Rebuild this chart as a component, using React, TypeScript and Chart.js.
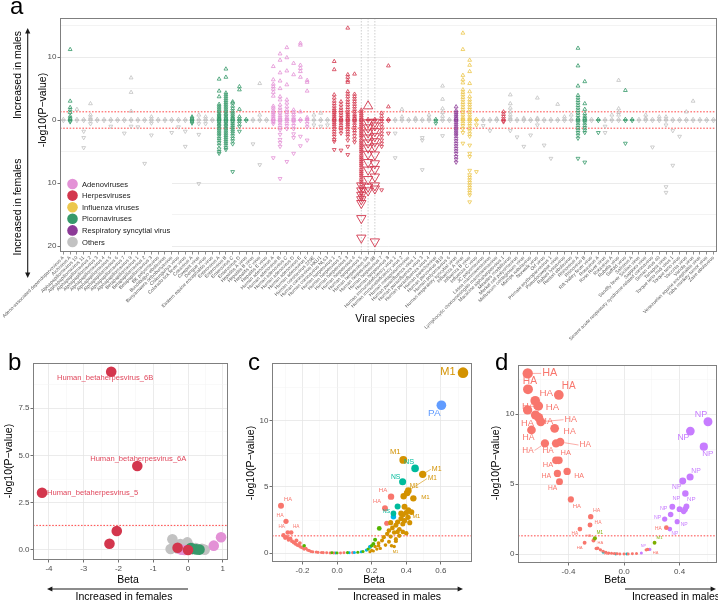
import React, { useEffect, useRef } from "react";
import { Chart, registerables } from "chart.js";

Chart.register(...registerables);

const PAGE_W = 718;
const PAGE_H = 601;
const SANS = "'Liberation Sans', Arial, Helvetica, sans-serif";
const AXIS_TEXT = "#4d4d4d";
const FRAME = "#7f7f7f";
const SIG_RED = "#ff3333";
const PVALUE_LINE = 1.3; // -log10(0.05)

// ---------------- a: peptide scores per viral species ----------------
const speciesNames: string[] = [
  "Adeno-associated dependoparvovirus A", "Aichivirus A", "Alphapapillomavirus 10", "Alphapapillomavirus 11",
  "Alphapapillomavirus 2", "Alphapapillomavirus 3", "Alphapapillomavirus 4", "Alphapapillomavirus 5",
  "Alphapapillomavirus 6", "Alphapapillomavirus 7", "Alphapapillomavirus 9", "Betapapillomavirus 1",
  "Betapapillomavirus 2", "Betapapillomavirus 3", "BK polyomavirus", "Bundibugyo ebolavirus",
  "Bunyamwera orthobunyavirus", "Chikungunya virus", "Colorado tick fever virus", "Cosavirus A",
  "Cowpox virus", "Dengue virus", "Eastern equine encephalitis virus", "Enterovirus A",
  "Enterovirus B", "Enterovirus C", "Enterovirus D", "Hepatitis A virus",
  "Hepatitis B virus", "Hepatitis C virus", "Hepatitis E virus", "Human adenovirus A",
  "Human adenovirus B", "Human adenovirus C", "Human adenovirus D", "Human adenovirus E",
  "Human adenovirus F", "Human coronavirus 229E", "Human coronavirus HKU1", "Human coronavirus NL63",
  "Human herpesvirus 1", "Human herpesvirus 2", "Human herpesvirus 3", "Human herpesvirus 4",
  "Human herpesvirus 5", "Human herpesvirus 6A", "Human herpesvirus 6B", "Human herpesvirus 7",
  "Human herpesvirus 8", "Human immunodeficiency virus 1", "Human immunodeficiency virus 2", "Human metapneumovirus",
  "Human parainfluenza virus 1", "Human parainfluenza virus 3", "Human parainfluenza virus 4", "Human parechovirus",
  "Human parvovirus B19", "Human polyomavirus 6", "Human respiratory syncytial virus", "Influenza A virus",
  "Influenza B virus", "Influenza C virus", "JC polyomavirus", "Lassa mammarenavirus",
  "Lymphocytic choriomeningitis mammarenavirus", "Macacine alphaherpesvirus 1", "Measles morbillivirus", "Merkel cell polyomavirus",
  "Molluscum contagiosum virus", "Mumps rubulavirus", "Norwalk virus", "Orf virus",
  "Primate erythroparvovirus 1", "Pseudocowpox virus", "Rabies lyssavirus", "Reston ebolavirus",
  "Rhinovirus A", "Rhinovirus B", "Rift Valley fever virus", "Rosavirus A",
  "Ross River virus", "Rotavirus A", "Rubella virus", "Saffold virus",
  "Salivirus A", "Sandfly fever Sicilian virus", "Sapporo virus", "Severe acute respiratory syndrome-related coronavirus",
  "Simian virus 40", "Tanapox virus", "Torque teno midi virus 1", "Torque teno virus",
  "Vaccinia virus", "Variola virus", "Venezuelan equine encephalitis virus", "Yaba monkey tumor virus",
  "Zaire ebolavirus",
];

// A adeno, H herpes, I influenza, P picorna, R RSV, O others
const speciesFamily: string[] = [
  "O", "P", "O", "O", "O", "O", "O", "O", "O", "O", "O", "O", "O", "O", "O", "O",
  "O", "O", "O", "P", "O", "O", "O", "P", "P", "P", "P", "P", "O", "O", "O", "A",
  "A", "A", "A", "A", "A", "O", "O", "O", "H", "H", "H", "H", "H", "H", "H", "H",
  "H", "O", "O", "O", "O", "O", "O", "P", "O", "O", "R", "I", "I", "I", "O", "O",
  "O", "H", "O", "O", "O", "O", "O", "O", "O", "O", "O", "O", "P", "P", "O", "P",
  "O", "O", "O", "P", "P", "O", "O", "O", "O", "O", "O", "O", "O", "O", "O", "O",
  "O",
];

// signed -log10(P): positive = higher in males, negative = higher in females
const peptideScores: number[][] = [
  [0.1, -0.1],
  [11.2, 3.0, 2.0, 1.6, 1.2, 0.6, 0.3, 0.1, -0.1, -0.3],
  [1.7, 0.1, -0.1],
  [0.1, -0.1, -1.8, -2.8, -4.4],
  [2.6, 0.8, 0.4, 0.1, -0.1, -0.6],
  [0.1, -0.1],
  [0.1, -0.1],
  [0.1, -0.1, -1.0],
  [0.1, -0.1],
  [0.1, -0.1, -2.1],
  [6.7, 4.4, 1.4, 0.1, -0.1, -1.0],
  [0.1, -0.1, -1.1],
  [0.1, -0.1, -6.9],
  [0.5, 0.1, -0.1, -0.5, -2.4],
  [0.1, -0.1],
  [0.1, -0.1],
  [0.1, -0.1, -2.0],
  [0.1, -0.1, -1.1],
  [0.1, -0.1, -1.8, -4.2],
  [0.5, 0.3, 0.1, -0.1, -0.3, -0.5],
  [0.8, 0.1, -0.1, -0.6, -2.3, -10.1],
  [0.5, 0.1, -0.1, -0.6],
  [0.1, -0.1],
  [6.5, 4.6, 3.7, 2.5, 2.2, 1.9, 1.6, 1.3, 1.0, 0.8, 0.6, 0.4, 0.2, 0.1, -0.1, -0.3, -0.5, -0.8, -1.0, -1.3, -1.6, -1.9, -2.2, -2.5, -2.9, -3.2, -3.6, -4.0, -4.6, -5.0, -5.3],
  [8.1, 6.8, 4.3, 4.0, 3.7, 3.4, 3.1, 2.8, 2.5, 2.2, 1.9, 1.6, 1.3, 1.0, 0.8, 0.5, 0.3, 0.1, -0.1, -0.3, -0.5, -0.8, -1.0, -1.3, -1.6, -1.9, -2.2, -2.5, -2.8, -3.1, -3.4, -3.7, -4.0, -4.4, -4.7],
  [2.9, 2.7, 2.2, 1.8, 1.4, 1.1, 0.8, 0.5, 0.3, 0.1, -0.1, -0.3, -0.6, -0.9, -1.2, -1.5, -1.8, -2.1, -2.5, -2.9, -3.3, -3.8, -8.2],
  [5.3, 4.8, 1.7, 0.5, 0.1, -0.1, -0.5, -1.0, -1.8],
  [0.1, -0.1],
  [0.1, -0.1, -3.8],
  [5.8, 0.8, 0.1, -0.1, -7.1],
  [0.1, -0.1],
  [8.5, 6.4, 5.7, 5.3, 4.9, 4.4, 3.8, 2.2, 1.9, 1.5, 1.2, 0.9, 0.6, 0.3, 0.1, -0.1, -0.3, -0.6, -6.0],
  [10.5, 9.5, 7.5, 6.2, 5.0, 3.7, 3.2, 2.4, 1.9, 1.5, 1.1, 0.7, 0.4, 0.1, -0.1, -0.4, -0.8, -1.2, -1.6, -2.3, -3.1, -3.6, -4.2, -9.3],
  [11.5, 9.9, 7.8, 5.6, 3.2, 2.7, 2.1, 1.6, 1.2, 0.8, 0.4, 0.1, -0.1, -0.5, -0.9, -1.4, -6.6],
  [9.0, 7.2, 1.6, 1.2, 0.8, 0.4, 0.1, -0.1, -0.4, -0.9, -1.4, -2.2, -2.8, -5.3],
  [12.2, 11.9, 8.7, 8.2, 7.7, 6.8, 1.3, 0.1, -0.1, -2.6, -4.1],
  [6.3, 6.0, 4.6, 0.4, 0.1, -0.1, -0.6, -1.1, -3.2],
  [0.8, 0.1, -0.1, -0.8],
  [1.1, 0.1, -0.1, -1.0],
  [0.1, -0.1, -0.8],
  [9.3, 8.0, 4.0, 3.5, 3.0, 2.6, 2.2, 1.8, 1.5, 1.2, 0.9, 0.6, 0.3, 0.1, -0.1, -0.4, -0.7, -1.0, -1.4, -1.8, -2.2, -2.6, -3.1, -3.4, -4.7],
  [2.9, 2.4, 1.9, 1.5, 1.1, 0.7, 0.3, 0.1, -0.1, -0.4, -0.8, -1.2, -1.6, -2.1, -4.8],
  [14.6, 7.2, 6.8, 6.3, 6.0, 4.5, 4.1, 3.7, 3.2, 2.8, 2.4, 2.0, 1.6, 1.2, 0.9, 0.6, 0.3, 0.1, -0.1, -0.4, -0.7, -1.0, -1.4, -1.8, -2.2, -2.6, -3.2, -4.2, -5.5],
  [7.3, 4.1, 3.7, 3.3, 2.9, 2.5, 2.1, 1.7, 1.3, 0.9, 0.6, 0.3, 0.1, -0.1, -0.4, -0.8, -1.2, -1.6, -2.0, -2.5, -3.0, -3.5],
  [1.6, 1.3, 1.0, 0.7, 0.4, 0.1, -0.1, -0.4, -0.7, -1.0, -1.3, -1.6, -1.9, -2.2, -2.5, -2.8, -3.2, -3.5, -3.8, -4.1, -4.4, -4.7, -5.0, -5.3, -5.7, -6.0, -6.3, -6.6, -6.9, -7.2, -7.5, -7.9, -8.2, -8.5, -8.8, -9.1, -9.5, -9.8, -10.2, -10.6, -11.0, -11.5, -12.0, -12.6],
  [0.1, -0.1],
  [0.1, -0.1],
  [1.1, 0.6, 0.1, -0.1, -0.6, -1.1, -1.6, -2.1, -2.6, -3.2, -3.7, -4.2, -11.1],
  [8.6, 2.1, 0.1, -0.1, -2.1],
  [0.1, -0.1, -2.1, -6.0],
  [1.7, 0.5, 0.1, -0.1],
  [0.1, -0.1],
  [0.3, 0.1, -0.1],
  [0.1, -0.1, -2.8, -3.2, -7.9],
  [0.8, 0.3, 0.1, -0.1],
  [0.1, -0.1, -0.5],
  [5.4, 3.3, 1.8, 1.2, 0.6, 0.1, -0.1, -2.5],
  [0.1, -0.1],
  [2.1, 1.5, 1.2, 0.9, 0.6, 0.3, 0.1, -0.1, -0.4, -0.7, -1.0, -1.3, -1.6, -1.9, -2.2, -2.5, -2.9, -3.3, -3.7, -4.1, -4.5, -4.9, -5.3, -5.8, -6.2, -6.7],
  [13.8, 11.2, 7.1, 6.4, 5.9, 4.8, 4.4, 4.0, 3.6, 3.2, 2.8, 2.4, 2.0, 1.6, 1.2, 0.8, 0.4, 0.1, -0.1, -0.5, -0.9, -1.4, -2.0, -3.7],
  [9.5, 8.7, 7.7, 5.8, 4.5, 3.7, 3.2, 2.8, 2.4, 2.0, 1.6, 1.2, 0.8, 0.4, 0.1, -0.1, -0.5, -0.9, -1.3, -1.7, -2.2, -2.6, -4.0, -5.3, -5.8, -8.0, -8.7, -9.1, -9.5, -9.9, -10.3, -10.7, -11.1, -11.5, -11.9, -13.0],
  [0.1, -0.1, -0.8, -8.2],
  [0.1, -0.1, -0.9],
  [0.1, -0.1, -1.7],
  [0.2, 0.1, -0.1],
  [1.3, 0.9, 0.5, 0.1, -0.1, -0.3],
  [4.0, 2.6, 1.9, 1.3, 0.8, 0.4, 0.1, -0.1, -1.7],
  [0.1, -0.1, -2.7],
  [0.3, 0.1, -0.1, -4.2],
  [0.1, -0.1, -2.4],
  [3.5, 0.3, 0.1, -0.1, -0.8],
  [0.1, -0.1, -4.0],
  [0.1, -0.1, -6.1],
  [2.5, 0.1, -0.1],
  [0.5, 0.1, -0.1],
  [0.8, 0.1, -0.1],
  [11.4, 8.6, 5.4, 3.9, 3.5, 3.1, 2.7, 2.3, 1.9, 1.5, 1.1, 0.7, 0.3, 0.1, -0.1, -0.4, -0.8, -1.2, -1.6, -2.0, -2.4, -2.9, -6.1],
  [6.1, 2.6, 1.7, 1.0, 0.6, 0.3, 0.1, -0.1, -0.4, -0.8, -1.2, -1.6, -2.0, -6.7],
  [0.1, -0.1],
  [0.1, -0.1, -2.0],
  [0.1, -0.1, -1.0, -2.0],
  [0.8, 0.1, -0.1],
  [6.3, 1.8, 1.2, 0.8, 0.1, -0.1],
  [4.7, 0.1, -0.1, -3.7],
  [0.1, -0.1],
  [0.1, -0.1],
  [0.8, 0.3, 0.1, -0.1],
  [0.1, -0.1, -4.3],
  [0.5, 0.1, -0.1],
  [0.5, 0.1, -0.1, -0.8, -10.6, -11.5],
  [0.1, -0.1, -1.7, -7.2],
  [0.1, -0.1, -2.6],
  [1.3, 0.1, -0.1],
  [3.0, 0.1, -0.1],
  [0.1, -0.1],
  [0.1, -0.1],
  [0.1, -0.1],
];

// species singled out at species level (drawn with enlarged markers)
const highlightedSpecies: string[] = ["Human herpesvirus 5", "Human herpesvirus 6A", "Human herpesvirus 6B"];
const highlightedScores: number[][] = [
  [-10.4, -11.2, -11.9, -12.6, -13.2, -15.6, -18.7],
  [2.2, -0.4, -1.2, -2.0, -2.8, -3.6, -4.4, -5.4, -6.7, -7.9, -9.4, -10.6, -11.2],
  [-0.3, -0.9, -1.8, -2.6, -3.4, -4.2, -5.5, -6.9, -7.8, -9.0, -10.4, -10.9, -19.3],
];

const familyKeys: string[] = ["A", "H", "I", "P", "R", "O"];
const familyNames: string[] = ["Adenoviruses", "Herpesviruses", "Influenza viruses", "Picornaviruses", "Respiratory syncytial virus", "Others"];
const familyColors: string[] = ["#e391d6", "#d3364d", "#ecc74c", "#36996a", "#8c3a97", "#c2c2c2"];
const scoreBreaks: number[] = [-20, -15, -10, -5, 0, 5, 10, 15];
const scoreLabelBreaks: number[] = [-20, -10, 0, 10];

// ---------------- b: species-level association ----------------
const bFamily: string[] = ["H", "H", "H", "H", "H", "O", "O", "O", "O", "O", "O", "O", "O", "O", "O", "O", "O", "O", "O", "A", "A", "A", "A", "P", "P", "P", "P", "H", "H"];
const bBeta: number[] = [-2.21, -1.46, -4.2, -2.05, -2.26, -0.45, -0.5, -0.38, -0.3, -0.22, -0.15, -0.08, 0.05, 0.12, 0.22, 0.3, 0.4, 0.48, -0.02, 0.95, 0.74, -0.2, -0.1, 0.13, 0.24, 0.33, 0.08, -0.3, 0.0];
const bLogP: number[] = [9.43, 4.44, 3.03, 1.0, 0.33, 0.57, 0.05, 0.28, 0.08, 0.32, 0.12, 0.03, 0.18, 0.04, 0.1, 0.02, 0.06, 0.01, 0.4, 0.67, 0.23, 0.02, 0.0, 0.06, 0.03, 0.02, 0.1, 0.12, 0.0];
const bLabel: string[] = ["Human_betaherpesvirus_6B", "Human_betaherpesvirus_6A", "Human_betaherpesvirus_5"];

// ---------------- c: influenza A peptides ----------------
const cGeneColors: Record<string, string> = { HA: "#f8766d", M1: "#d39200", NA: "#53b400", NP: "#00b6eb", NS: "#00bb9c", PA: "#619cff" };
const cLabelGene: string[] = ["M1", "PA", "M1", "NS", "M1", "NS", "M1", "M1", "M1", "HA", "HA", "NS", "M1", "HA", "HA", "HA", "HA", "M1"];
const cLabelBeta: number[] = [0.728, 0.603, 0.383, 0.451, 0.495, 0.379, 0.405, 0.412, 0.441, 0.312, 0.277, 0.326, 0.412, -0.324, -0.295, -0.285, -0.265, 0.315];
const cLabelLogP: number[] = [13.66, 11.19, 7.05, 6.41, 5.96, 5.4, 4.55, 4.72, 4.14, 4.27, 3.39, 3.0, 3.25, 3.58, 2.4, 1.55, 1.55, 0.55];
const cLabelDx: number[] = [-15, -7, -8, -6, 14, -7, 7, 24, 12, -8, -8, -7, 8, 7, -6, -6, 5, 4];
const cLabelDy: number[] = [-1, 8, -8, -6, -5, -5, -7, -12, -1, -6, -7, -2, 6, -6, -6, -6, -6, 6];
const cM1Beta: number[] = [0.2, 0.22, 0.24, 0.26, 0.27, 0.29, 0.3, 0.31, 0.32, 0.33, 0.34, 0.35, 0.36, 0.37, 0.38, 0.38, 0.39, 0.4, 0.41, 0.42, 0.36, 0.3, 0.33, 0.28, 0.25, 0.34, 0.38, 0.4, 0.39, 0.385, 0.37, 0.43, 0.34, 0.31, 0.35, 0.23, 0.21, 0.19, 0.24];
const cM1LogP: number[] = [0.2, 0.5, 0.75, 0.95, 1.2, 1.45, 1.7, 1.25, 1.9, 1.55, 2.1, 2.35, 1.8, 2.6, 2.2, 2.9, 2.45, 3.05, 2.7, 2.3, 1.3, 0.85, 0.5, 0.6, 0.35, 1.05, 1.6, 1.5, 3.5, 4.3, 3.0, 3.1, 0.9, 2.3, 1.6, 0.3, 0.15, 0.1, 0.55];
const cHABeta: number[] = [0.287, -0.31, -0.3, -0.29, -0.28, -0.27, -0.26, -0.25, -0.24, -0.235, -0.23, -0.22, -0.215, -0.21, -0.2, -0.19, -0.18, -0.17, -0.16, -0.15, -0.14, -0.12, -0.11, -0.09, -0.08, -0.06, -0.04, -0.02, 0.02, 0.04, 0.09];
const cHALogP: number[] = [2.25, 1.35, 1.15, 1.2, 1.0, 1.1, 0.9, 0.8, 0.7, 0.95, 0.6, 0.55, 0.75, 0.45, 0.4, 0.3, 0.35, 0.22, 0.18, 0.12, 0.1, 0.07, 0.05, 0.04, 0.03, 0.02, 0.01, 0.01, 0.01, 0.02, 0.03];
const cNABeta: number[] = [-0.19, 0.244, 0.22, 0.21, 0.19, 0.2, 0.18, 0.15, 0.12, 0.06, 0.0, -0.03];
const cNALogP: number[] = [0.55, 1.86, 1.0, 0.7, 0.45, 0.55, 0.3, 0.12, 0.06, 0.03, 0.01, 0.02];
const cNPBeta: number[] = [0.326, 0.19, 0.17, 0.14, 0.1, 0.07, -0.01];
const cNPLogP: number[] = [2.75, 0.48, 0.22, 0.1, 0.04, 0.02, 0.0];
const cNSBeta: number[] = [0.35];
const cNSLogP: number[] = [3.53];

// ---------------- d: influenza B peptides ----------------
const dGeneColors: Record<string, string> = { HA: "#f8766d", M1: "#7cae00", NA: "#00bfc4", NP: "#c77cff" };
const dLabelGene: string[] = [
  "HA", "HA", "HA", "HA", "HA", "HA", "HA", "HA", "HA", "HA", "HA", "HA", "HA", "HA",
  "HA", "HA", "HA", "HA", "HA", "HA", "HA", "HA", "HA", "HA", "HA", "HA", "HA",
  "M1", "M1",
  "NP", "NP", "NP", "NP", "NP", "NP", "NP", "NP", "NP", "NP", "NP",
  "HA", "HA", "NP",
];
const dLabelBeta: number[] = [
  -0.694, -0.692, -0.47, -0.64, -0.617, -0.695, -0.638, -0.615, -0.6, -0.667, -0.5, -0.57, -0.49, -0.46,
  -0.49, -0.47, -0.48, -0.41, -0.465, -0.383, -0.24, -0.245, -0.318, -0.22, -0.284, -0.2, 0.305,
  -0.21, 0.22,
  0.605, 0.478, 0.575, 0.476, 0.423, 0.442, 0.348, 0.336, 0.293, 0.383, 0.33,
  -0.17, 0.17, 0.125,
];
const dLabelLogP: number[] = [
  12.9, 11.76, 11.36, 10.95, 10.57, 10.29, 9.93, 9.75, 9.45, 8.86, 8.98, 7.9, 7.9, 8.0,
  6.69, 6.69, 5.76, 5.9, 5.17, 3.9, 2.67, 2.07, 1.78, 0.96, 0.81, 0.4, 1.88,
  1.12, 0.81,
  9.45, 8.78, 7.67, 5.5, 5.21, 4.33, 3.38, 2.83, 2.5, 2.31, 1.78,
  0.3, 0.33, 0.08,
];
const dLabelDx: number[] = [
  22, 2, 10, 11, 14, 1, -8, 8, 30, -3, 15, -17, -8, 25,
  -8, 7, -11, 12, -7, 6, 6, 8, -5, -5, -5, 4, -8,
  5, 5,
  -7, -7, 4, 6, -6, 6, 4, -7, -7, 7, 5,
  6, 8, 2,
];
const dLabelDy: number[] = [
  0, -8, -9, -7, 1, -4, 8, 4, -2, 8, 3, 7, 7, 3,
  5, -7, 3, 5, 7, 7, -6, -2, 5, -5, 5, -6, 1,
  -6, -5,
  -7, 7, 7, -6, 6, 6, -8, -6, -1, 3, 5,
  4, 3, -7,
];
const dNPBeta: number[] = [0.45, 0.43, 0.4, 0.44, 0.185];
const dNPLogP: number[] = [3.4, 3.05, 3.2, 3.2, 0.33];
const dHABeta: number[] = [-0.19, -0.15, -0.13, -0.11, -0.09, -0.07, -0.05, -0.03, 0.0, 0.03, 0.06, 0.09, 0.16];
const dHALogP: number[] = [0.42, 0.2, 0.12, 0.08, 0.05, 0.03, 0.02, 0.01, 0.01, 0.01, 0.02, 0.04, 0.3];
const dNABeta: number[] = [-0.15, -0.06, 0.02];
const dNALogP: number[] = [0.14, 0.01, 0.0];

// ---------------- helpers ----------------
type Box = { left: number; top: number; right: number; bottom: number };
type AxisSpec = { min: number; max: number; step: number; every: number; digits: number };

function layoutFor(box: Box, yw: number, xh: number) {
  return {
    autoPadding: false,
    padding: { left: box.left - yw, top: box.top, right: PAGE_W - box.right, bottom: PAGE_H - box.bottom - xh },
  };
}

function linearAxis(spec: AxisSpec, size: number) {
  const { min, max, step, every, digits } = spec;
  const ks: number[] = [];
  for (let k = Math.ceil(min / step - 1e-9); k * step <= max + 1e-9; k++) ks.push(k);
  const isMajor = (v: number) => {
    const q = v / (step * every);
    return Math.abs(q - Math.round(q)) < 1e-6;
  };
  return {
    type: "linear",
    min,
    max,
    afterBuildTicks: (s: any) => {
      s.ticks = ks.map((k) => ({ value: k * step }));
    },
    afterFit: (s: any) => {
      if (s.isHorizontal()) s.height = size;
      else s.width = size;
    },
    ticks: {
      autoSkip: false,
      maxRotation: 0,
      minRotation: 0,
      padding: 1,
      color: AXIS_TEXT,
      font: { family: SANS, size: 8 },
      callback: (v: number) => (isMajor(v) ? (Math.abs(v) < 1e-9 ? (0).toFixed(digits) : v.toFixed(digits)) : ""),
    },
    grid: {
      color: (c: any) => (c.tick && isMajor(c.tick.value) ? "#e6e6e6" : "#f2f2f2"),
      lineWidth: (c: any) => (c.tick && isMajor(c.tick.value) ? 0.8 : 0.5),
      tickColor: (c: any) => (c.tick && isMajor(c.tick.value) ? "#333333" : "rgba(0,0,0,0)"),
      tickLength: 2.5,
      tickWidth: 0.7,
    },
    border: { display: false },
  };
}

function drawText(ctx: CanvasRenderingContext2D, s: string, x: number, y: number, size: number, opts: any = {}) {
  ctx.save();
  ctx.font = `${opts.weight || "normal"} ${size}px ${SANS}`;
  ctx.fillStyle = opts.color || "#000";
  ctx.textAlign = opts.align || "center";
  ctx.textBaseline = opts.baseline || "middle";
  ctx.translate(x, y);
  if (opts.rotate) ctx.rotate(opts.rotate);
  ctx.fillText(s, 0, 0);
  ctx.restore();
}

function drawArrow(ctx: CanvasRenderingContext2D, x1: number, y1: number, x2: number, y2: number) {
  const ang = Math.atan2(y2 - y1, x2 - x1);
  const head = 6;
  ctx.save();
  ctx.strokeStyle = "#1a1a1a";
  ctx.fillStyle = "#1a1a1a";
  ctx.lineWidth = 1.1;
  ctx.beginPath();
  ctx.moveTo(x1, y1);
  ctx.lineTo(x2 - Math.cos(ang) * head * 0.8, y2 - Math.sin(ang) * head * 0.8);
  ctx.stroke();
  ctx.beginPath();
  ctx.moveTo(x2, y2);
  ctx.lineTo(x2 - head * Math.cos(ang - 0.45), y2 - head * Math.sin(ang - 0.45));
  ctx.lineTo(x2 - head * Math.cos(ang + 0.45), y2 - head * Math.sin(ang + 0.45));
  ctx.closePath();
  ctx.fill();
  ctx.restore();
}

function frameAndThreshold(chart: any, both: boolean) {
  const { ctx, chartArea: ca, scales } = chart;
  ctx.save();
  ctx.strokeStyle = SIG_RED;
  ctx.lineWidth = 0.9;
  ctx.setLineDash([1.6, 1.6]);
  const levels = both ? [PVALUE_LINE, -PVALUE_LINE] : [PVALUE_LINE];
  for (const lv of levels) {
    const py = scales.y.getPixelForValue(lv);
    ctx.beginPath();
    ctx.moveTo(ca.left, py);
    ctx.lineTo(ca.right, py);
    ctx.stroke();
  }
  ctx.restore();
}

function drawFrame(chart: any) {
  const { ctx, chartArea: ca } = chart;
  ctx.save();
  ctx.strokeStyle = FRAME;
  ctx.lineWidth = 1;
  ctx.strokeRect(Math.round(ca.left) + 0.5, Math.round(ca.top) + 0.5, Math.round(ca.right - ca.left) - 1, Math.round(ca.bottom - ca.top) - 1);
  ctx.restore();
}

type Note = { x: number; y: number; text: string; dx: number; dy: number; size: number; color: string; r: number; align?: string };

function notesPlugin(id: string, notes: Note[]) {
  return {
    id,
    afterDatasetsDraw(chart: any) {
      const { ctx, scales } = chart;
      ctx.save();
      for (const n of notes) {
        const px = scales.x.getPixelForValue(n.x);
        const py = scales.y.getPixelForValue(n.y);
        const tx = px + n.dx;
        const ty = py + n.dy;
        ctx.font = `${n.size}px ${SANS}`;
        const w = ctx.measureText(n.text).width;
        const dist = Math.hypot(n.dx, n.dy);
        if (!n.align && dist > n.r + w * 0.5 + 6) {
          const ex = tx - Math.sign(n.dx) * (w / 2 + 1);
          const a = Math.atan2(ty - py, ex - px);
          ctx.strokeStyle = n.color;
          ctx.lineWidth = 0.6;
          ctx.beginPath();
          ctx.moveTo(px + Math.cos(a) * n.r, py + Math.sin(a) * n.r);
          ctx.lineTo(ex, ty);
          ctx.stroke();
        }
        ctx.fillStyle = n.color;
        ctx.textAlign = (n.align as CanvasTextAlign) || "center";
        ctx.textBaseline = "middle";
        ctx.fillText(n.text, tx, ty);
      }
      ctx.restore();
    },
  };
}

const pointSize = (logp: number) => Math.sqrt(2.2 + 1.9 * Math.max(0, logp));
const labelSize = (logp: number) => Math.min(11, 3.8 + 0.55 * Math.max(0, logp));

const baseOptions = {
  responsive: false,
  animation: false as const,
  events: [] as any[],
  plugins: { legend: { display: false }, tooltip: { enabled: false }, title: { display: false } },
};

// ---------------- chart configs ----------------
function panelAConfig() {
  const box: Box = { left: 60, top: 18, right: 717, bottom: 252 };
  const famColor = (k: string) => familyColors[familyKeys.indexOf(k)];
  const drawOrder = ["O", "A", "P", "R", "I", "H"];
  const datasets: any[] = drawOrder.map((fk) => {
    const data: any[] = [];
    speciesNames.forEach((name, i) => {
      if (speciesFamily[i] !== fk) return;
      for (const v of peptideScores[i]) data.push({ x: name, y: v });
    });
    return {
      data,
      pointStyle: "triangle",
      pointRadius: 2.2,
      pointBorderWidth: 0.8,
      pointBorderColor: famColor(fk),
      pointBackgroundColor: "rgba(255,255,255,0)",
      pointRotation: (c: any) => (c.raw && c.raw.y < 0 ? 180 : 0),
    };
  });
  const big: any[] = [];
  highlightedSpecies.forEach((name, k) => {
    for (const v of highlightedScores[k]) big.push({ x: name, y: v });
  });
  datasets.push({
    data: big,
    pointStyle: "triangle",
    pointRadius: 5.4,
    pointBorderWidth: 0.9,
    pointBorderColor: famColor("H"),
    pointBackgroundColor: "rgba(255,255,255,0)",
    pointRotation: (c: any) => (c.raw && c.raw.y < 0 ? 180 : 0),
  });

  const plugin = {
    id: "panelA",
    beforeDatasetsDraw(chart: any) {
      const { ctx, chartArea: ca, scales } = chart;
      ctx.save();
      ctx.strokeStyle = "#c4c4c4";
      ctx.lineWidth = 0.8;
      ctx.setLineDash([1.5, 1.5]);
      for (const name of highlightedSpecies) {
        const px = scales.x.getPixelForValue(speciesNames.indexOf(name));
        ctx.beginPath();
        ctx.moveTo(px, ca.top);
        ctx.lineTo(px, ca.bottom);
        ctx.stroke();
      }
      ctx.restore();
      frameAndThreshold(chart, true);
    },
    afterDraw(chart: any) {
      const { ctx, chartArea: ca } = chart;
      // legend
      ctx.save();
      ctx.fillStyle = "#ffffff";
      ctx.fillRect(ca.left + 1, ca.bottom - 81, 111, 80);
      familyNames.forEach((name, k) => {
        const cy = ca.bottom - 68 + k * 11.6;
        ctx.beginPath();
        ctx.fillStyle = familyColors[k];
        ctx.arc(ca.left + 12.5, cy, 5.3, 0, Math.PI * 2);
        ctx.fill();
        drawText(ctx, name, ca.left + 22, cy + 0.5, 7.6, { align: "left", color: "#1a1a1a" });
      });
      ctx.restore();
      drawFrame(chart);
      drawText(ctx, "a", 10, 13.5, 24, { align: "left", baseline: "alphabetic" });
      drawText(ctx, "-log10(P\u2212value)", 43, 110, 10.5, { rotate: -Math.PI / 2 });
      drawText(ctx, "Increased in males", 18, 75, 10.5, { rotate: -Math.PI / 2 });
      drawText(ctx, "Increased in females", 18, 207, 10.5, { rotate: -Math.PI / 2 });
      drawArrow(ctx, 27.7, 119, 27.7, 28);
      drawArrow(ctx, 27.7, 119, 27.7, 278);
      drawText(ctx, "Viral species", 385, 319, 10.5);
    },
  };

  return {
    type: "scatter",
    data: { datasets },
    options: {
      ...baseOptions,
      layout: layoutFor(box, 20, 90),
      scales: {
        x: {
          type: "category",
          labels: speciesNames,
          offset: true,
          afterFit: (s: any) => {
            s.height = 90;
          },
          grid: { display: true, drawOnChartArea: false, offset: false, tickLength: 2.5, tickColor: "#444", tickWidth: 0.6 },
          border: { display: false },
          ticks: { autoSkip: false, minRotation: 45, maxRotation: 45, padding: 0.5, color: "#5a5a5a", font: { family: SANS, size: 4.8 } },
        },
        y: {
          type: "linear",
          min: -20.95,
          max: 16.19,
          afterBuildTicks: (s: any) => {
            s.ticks = scoreBreaks.map((v) => ({ value: v }));
          },
          afterFit: (s: any) => {
            s.width = 20;
          },
          ticks: {
            autoSkip: false,
            padding: 1,
            color: AXIS_TEXT,
            font: { family: SANS, size: 8 },
            callback: (v: number) => (scoreLabelBreaks.includes(v) ? String(Math.abs(v)) : ""),
          },
          grid: {
            color: (c: any) => (c.tick && scoreLabelBreaks.includes(c.tick.value) ? "#e6e6e6" : "#f0f0f0"),
            lineWidth: 0.8,
            tickColor: (c: any) => (c.tick && scoreLabelBreaks.includes(c.tick.value) ? "#333" : "rgba(0,0,0,0)"),
            tickLength: 2.5,
            tickWidth: 0.7,
          },
          border: { display: false },
        },
      },
    },
    plugins: [plugin],
  };
}

function panelBConfig() {
  const box: Box = { left: 33, top: 363, right: 228, bottom: 560 };
  const famColor = (k: string) => familyColors[familyKeys.indexOf(k)];
  const order = bBeta.map((_, i) => i).sort((a, b) => {
    const ra = bFamily[a] === "O" ? 0 : 1;
    const rb = bFamily[b] === "O" ? 0 : 1;
    return ra - rb;
  });
  const data = order.map((i) => ({ x: bBeta[i], y: bLogP[i] }));
  const colors = order.map((i) => famColor(bFamily[i]));
  const nudges = [
    { dx: -6, dy: 6, align: "center" },
    { dx: 1, dy: -7, align: "center" },
    { dx: 5, dy: 0.5, align: "left" },
  ];
  const notes: Note[] = bLabel.map((t, i) => ({
    x: bBeta[i], y: bLogP[i], text: t, dx: nudges[i].dx, dy: nudges[i].dy, size: 7.6, color: "#e0475c", r: 5.3, align: nudges[i].align,
  }));
  const plugin = {
    id: "panelB",
    beforeDatasetsDraw(chart: any) {
      frameAndThreshold(chart, false);
    },
    afterDraw(chart: any) {
      const { ctx } = chart;
      drawFrame(chart);
      drawText(ctx, "b", 8, 370, 24, { align: "left", baseline: "alphabetic" });
      drawText(ctx, "Beta", 128, 580, 10.5);
      drawText(ctx, "-log10(P\u2212value)", 9, 461, 10.5, { rotate: -Math.PI / 2 });
      drawArrow(ctx, 188, 589, 47, 589);
      drawText(ctx, "Increased in females", 124, 597, 10.5);
    },
  };
  return {
    type: "scatter",
    data: { datasets: [{ data, pointRadius: 5.3, pointBorderWidth: 0, pointBackgroundColor: colors, pointHoverRadius: 5.3 }] },
    options: {
      ...baseOptions,
      layout: layoutFor(box, 18, 16),
      scales: {
        x: linearAxis({ min: -4.46, max: 1.15, step: 0.5, every: 2, digits: 0 }, 16),
        y: linearAxis({ min: -0.53, max: 9.89, step: 1.25, every: 2, digits: 1 }, 18),
      },
    },
    plugins: [plugin, notesPlugin("bNotes", notes)],
  };
}

type Pt = { gene: string; beta: number; logp: number };

function volcanoConfig(
  letter: string,
  box: Box,
  xSpec: AxisSpec,
  ySpec: AxisSpec,
  points: Pt[],
  labelled: (Pt & { dx: number; dy: number })[],
  colors: Record<string, string>,
  geom: { letterX: number; betaX: number; yTitleX: number; arrow: [number, number]; arrowText: string; arrowTextX: number },
) {
  const all = [...points, ...labelled].sort((a, b) => a.logp - b.logp);
  const data = all.map((p) => ({ x: p.beta, y: p.logp }));
  const notes: Note[] = labelled.map((p) => ({
    x: p.beta, y: p.logp, text: p.gene, dx: p.dx, dy: p.dy, size: labelSize(p.logp), color: colors[p.gene], r: pointSize(p.logp),
  }));
  const plugin = {
    id: "panel" + letter,
    beforeDatasetsDraw(chart: any) {
      frameAndThreshold(chart, false);
    },
    afterDraw(chart: any) {
      const { ctx } = chart;
      drawFrame(chart);
      drawText(ctx, letter, geom.letterX, 370, 24, { align: "left", baseline: "alphabetic" });
      drawText(ctx, "Beta", geom.betaX, 580, 10.5);
      drawText(ctx, "-log10(P\u2212value)", geom.yTitleX, 463, 10.5, { rotate: -Math.PI / 2 });
      drawArrow(ctx, geom.arrow[0], 589, geom.arrow[1], 589);
      drawText(ctx, geom.arrowText, geom.arrowTextX, 597, 10.5);
    },
  };
  return {
    type: "scatter",
    data: {
      datasets: [{
        data,
        pointRadius: all.map((p) => pointSize(p.logp)),
        pointBorderWidth: 0,
        pointBackgroundColor: all.map((p) => colors[p.gene]),
      }],
    },
    options: {
      ...baseOptions,
      layout: layoutFor(box, 20, 16),
      scales: { x: linearAxis(xSpec, 16), y: linearAxis(ySpec, 20) },
    },
    plugins: [plugin, notesPlugin("notes" + letter, notes)],
  };
}

function zipPts(gene: string, betas: number[], logps: number[]): Pt[] {
  return betas.map((b, i) => ({ gene, beta: b, logp: logps[i] }));
}

function panelCConfig() {
  const pts = [
    ...zipPts("HA", cHABeta, cHALogP),
    ...zipPts("NA", cNABeta, cNALogP),
    ...zipPts("NP", cNPBeta, cNPLogP),
    ...zipPts("M1", cM1Beta, cM1LogP),
    ...zipPts("NS", cNSBeta, cNSLogP),
  ];
  const lab = cLabelGene.map((g, i) => ({ gene: g, beta: cLabelBeta[i], logp: cLabelLogP[i], dx: cLabelDx[i], dy: cLabelDy[i] }));
  return volcanoConfig(
    "c",
    { left: 272, top: 363, right: 472, bottom: 562 },
    { min: -0.376, max: 0.78, step: 0.1, every: 2, digits: 1 },
    { min: -0.68, max: 14.39, step: 2.5, every: 2, digits: 0 },
    pts,
    lab,
    cGeneColors,
    { letterX: 248, betaX: 374, yTitleX: 251, arrow: [338, 463], arrowText: "Increased in males", arrowTextX: 397 },
  );
}

function panelDConfig() {
  const pts = [
    ...zipPts("HA", dHABeta, dHALogP),
    ...zipPts("NA", dNABeta, dNALogP),
    ...zipPts("NP", dNPBeta, dNPLogP),
  ];
  const lab = dLabelGene.map((g, i) => ({ gene: g, beta: dLabelBeta[i], logp: dLabelLogP[i], dx: dLabelDx[i], dy: dLabelDy[i] }));
  return volcanoConfig(
    "d",
    { left: 518, top: 365, right: 717, bottom: 563 },
    { min: -0.764, max: 0.67, step: 0.2, every: 2, digits: 1 },
    { min: -0.64, max: 13.5, step: 2.5, every: 2, digits: 0 },
    pts,
    lab,
    dGeneColors,
    { letterX: 495, betaX: 615, yTitleX: 496, arrow: [625, 716], arrowText: "Increased in males", arrowTextX: 676 },
  );
}

export default function App() {
  const refA = useRef<HTMLCanvasElement>(null);
  const refB = useRef<HTMLCanvasElement>(null);
  const refC = useRef<HTMLCanvasElement>(null);
  const refD = useRef<HTMLCanvasElement>(null);

  useEffect(() => {
    const charts: Chart[] = [];
    const pairs: [React.RefObject<HTMLCanvasElement>, () => any][] = [
      [refA, panelAConfig],
      [refB, panelBConfig],
      [refC, panelCConfig],
      [refD, panelDConfig],
    ];
    for (const [ref, make] of pairs) {
      if (ref.current) charts.push(new Chart(ref.current, make()));
    }
    return () => charts.forEach((c) => c.destroy());
  }, []);

  const canvasStyle: React.CSSProperties = { position: "absolute", left: 0, top: 0, width: PAGE_W, height: PAGE_H };
  return (
    <div style={{ position: "absolute", left: 0, top: 0, width: PAGE_W, height: PAGE_H, background: "#ffffff", overflow: "hidden" }}>
      <canvas ref={refA} width={PAGE_W} height={PAGE_H} style={canvasStyle} />
      <canvas ref={refB} width={PAGE_W} height={PAGE_H} style={canvasStyle} />
      <canvas ref={refC} width={PAGE_W} height={PAGE_H} style={canvasStyle} />
      <canvas ref={refD} width={PAGE_W} height={PAGE_H} style={canvasStyle} />
    </div>
  );
}
